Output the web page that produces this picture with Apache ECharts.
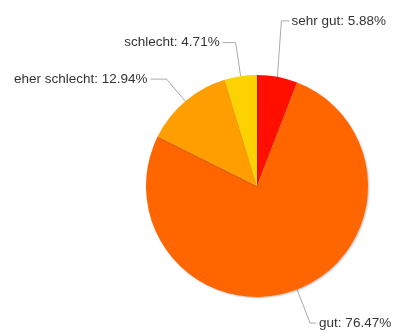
<!DOCTYPE html>
<html>
<head>
<meta charset="utf-8">
<script src="https://cdn.jsdelivr.net/npm/echarts@6/dist/echarts.min.js"></script>
<style>
  html, body { margin: 0; padding: 0; background: #fff; }
  #chart { width: 393px; height: 334px; }
</style>
</head>
<body>
<div id="chart"></div>
<script>
// Ratings and their counts (share shown as percent of the total)
const categories = ['sehr gut', 'gut', 'eher schlecht', 'schlecht'];
const counts = [5, 65, 11, 4];
const colors = ['#FF0F00', '#FF6600', '#FF9E01', '#FCD202'];
// Leader line lengths per slice: [radial part, horizontal part]
const leaderLengths = [[57, 8], [36, 6], [29, 16], [34, 13]];

const chart = echarts.init(document.getElementById('chart'), null, { renderer: 'canvas' });

chart.setOption({
  animation: false,
  series: [{
    type: 'pie',
    center: [257, 186],
    radius: 111,
    startAngle: 90,
    clockwise: true,
    avoidLabelOverlap: false,
    percentPrecision: 2,
    itemStyle: {
      borderWidth: 0,
      shadowBlur: 2,
      shadowColor: 'rgba(0,0,0,0.25)',
      shadowOffsetX: 1,
      shadowOffsetY: 1
    },
    label: {
      formatter: '{b}: {d}%',
      fontFamily: 'Liberation Sans, Arial, sans-serif',
      fontSize: 13.5,
      color: '#333',
      distanceToLabelLine: 3
    },
    labelLine: {
      lineStyle: { color: '#aaa', width: 1 }
    },
    // The first leader rises almost straight up before turning right
    labelLayout: function (params) {
      if (params.dataIndex !== 0 || !params.labelLinePoints) return {};
      const p0 = params.labelLinePoints[0];
      const p1 = [p0[0] + 4, params.labelLinePoints[1][1]];
      const p2 = [p1[0] + 8, p1[1]];
      return {
        x: p2[0] + 2,
        y: p2[1],
        labelLinePoints: [p0, p1, p2]
      };
    },
    emphasis: { disabled: true },
    data: categories.map((name, i) => ({
      name,
      value: counts[i],
      itemStyle: { color: colors[i] },
      labelLine: { length: leaderLengths[i][0], length2: leaderLengths[i][1] }
    }))
  }]
});
</script>
</body>
</html>
